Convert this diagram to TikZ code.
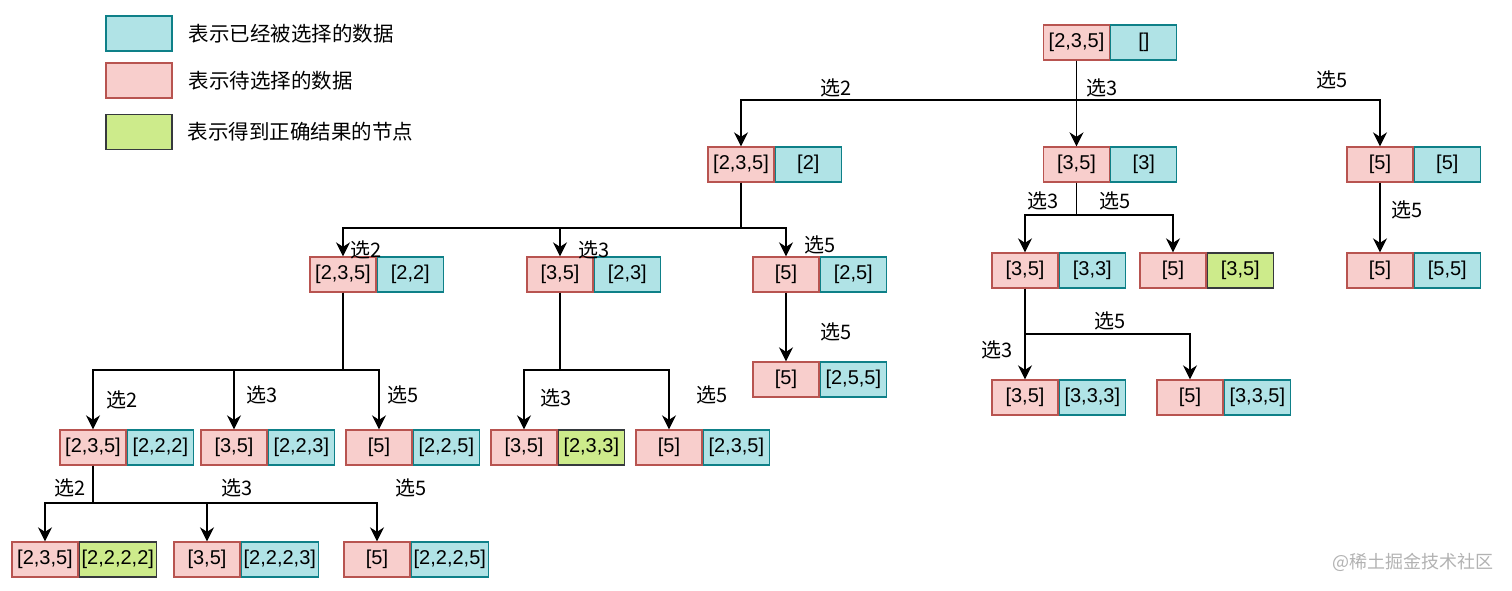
\documentclass[tikz,border=0pt]{standalone}
\usepackage{fontspec}
\setmainfont{Liberation Sans}
\newfontfamily\cjk{Noto Sans CJK SC}
\usetikzlibrary{positioning,arrows.meta}
\definecolor{redfill}{HTML}{F8CECC}
\definecolor{reddraw}{HTML}{B85450}
\definecolor{cyanfill}{HTML}{B0E3E6}
\definecolor{cyandraw}{HTML}{0E8088}
\definecolor{greenfill}{HTML}{CDEB8B}
\definecolor{greendraw}{HTML}{36393D}
\tikzset{
  todo/.style={draw=reddraw, fill=redfill, line width=1.3pt, minimum width=66pt,
    minimum height=35pt, inner sep=0pt, font=\fontsize{20}{24}\selectfont},
  done/.style={todo, draw=cyandraw, fill=cyanfill},
  hit/.style={todo, draw=greendraw, fill=greendraw!0!greenfill},
  arr/.style={-{Stealth[length=14pt,width=14pt,inset=4.5pt]}, line width=1.9pt},
  pick/.style={font=\cjk\fontsize{20}{24}\selectfont, inner sep=0pt},
  keytext/.style={font=\cjk\fontsize{20.5}{24}\selectfont, inner sep=0pt, anchor=west}
}
% one state: name, x, y, still to choose, chosen, style of chosen part
\newcommand{\state}[6]{%
  \node[todo] (#1) at (#2,#3) {#4};
  \node[#6, right=0pt of #1] (#1v) {#5};
}
% elbow connector from parent to child through the level y
\newcommand{\branch}[3]{%
  \draw[arr] (#1.south) -- (#1.south |- 0,#2) -| (#3.north);
}
\begin{document}
\begin{tikzpicture}[x=1pt,y=-1pt]
\useasboundingbox (0,0) rectangle (1512,590);
% legend
\node[done] (keydone) at (139,33.5) {};
\node[keytext, right=16pt of keydone] (keydonet) {表示已经被选择的数据};
\node[todo] (keytodo) at (139,80.5) {};
\node[keytext, right=16pt of keytodo] (keytodot) {表示待选择的数据};
\node[hit] (keyhit) at (139,132) {};
\node[keytext, right=15pt of keyhit] (keyhitt) {表示得到正确结果的节点};

% states
\state{root}{1076.5}{42.5}{[2,3,5]}{[]}{done}
\state{a}{741}{164.5}{[2,3,5]}{[2]}{done}
\state{b}{1076.5}{164.5}{[3,5]}{[3]}{done}
\state{c}{1380}{164.5}{[5]}{[5]}{done}
\state{aa}{343}{274.5}{[2,3,5]}{[2,2]}{done}
\state{ab}{560}{274.5}{[3,5]}{[2,3]}{done}
\state{ac}{786}{274.5}{[5]}{[2,5]}{done}
\state{acc}{786}{379.5}{[5]}{[2,5,5]}{done}
\state{aaa}{93}{447.5}{[2,3,5]}{[2,2,2]}{done}
\state{aab}{234}{447.5}{[3,5]}{[2,2,3]}{done}
\state{aac}{379}{447.5}{[5]}{[2,2,5]}{done}
\state{abb}{524}{447.5}{[3,5]}{[2,3,3]}{hit}
\state{abc}{669}{447.5}{[5]}{[2,3,5]}{done}
\state{aaaa}{45}{559.5}{[2,3,5]}{[2,2,2,2]}{hit, minimum width=77pt}
\state{aaab}{207}{559.5}{[3,5]}{[2,2,2,3]}{done, minimum width=77pt}
\state{aaac}{377}{559.5}{[5]}{[2,2,2,5]}{done, minimum width=77pt}
\state{bb}{1025}{270.5}{[3,5]}{[3,3]}{done}
\state{bc}{1173}{270.5}{[5]}{[3,5]}{hit}
\state{bbb}{1025}{397.5}{[3,5]}{[3,3,3]}{done}
\state{bbc}{1190}{397.5}{[5]}{[3,3,5]}{done}
\state{cc}{1380}{270.5}{[5]}{[5,5]}{done}

% connectors
\branch{root}{100}{a}
\branch{root}{100}{b}
\branch{root}{100}{c}
\branch{a}{228}{aa}
\branch{a}{228}{ab}
\branch{a}{228}{ac}
\draw[arr] (ac.south) -- (acc.north);
\branch{aa}{370}{aaa}
\branch{aa}{370}{aab}
\branch{aa}{370}{aac}
\branch{ab}{370}{abb}
\branch{ab}{370}{abc}
\branch{aaa}{503}{aaaa}
\branch{aaa}{503}{aaab}
\branch{aaa}{503}{aaac}
\branch{b}{215}{bb}
\branch{b}{215}{bc}
\branch{bb}{334}{bbb}
\branch{bb}{334}{bbc}
\draw[arr] (c.south) -- (cc.north);

% choices
\node[pick] (pra) at (836,88) {选2};
\node[pick] (prb) at (1102,88) {选3};
\node[pick] (prc) at (1332,80) {选5};
\node[pick] (paa) at (366,250) {选2};
\node[pick] (pab) at (594,250) {选3};
\node[pick] (pac) at (820,245) {选5};
\node[pick] (pacc) at (836,332) {选5};
\node[pick] (paaa) at (122,400) {选2};
\node[pick] (paab) at (262,395) {选3};
\node[pick] (paac) at (403,395) {选5};
\node[pick] (pabb) at (556,398) {选3};
\node[pick] (pabc) at (712,395) {选5};
\node[pick] (paaaa) at (70,488) {选2};
\node[pick] (paaab) at (237,488) {选3};
\node[pick] (paaac) at (411,488) {选5};
\node[pick] (pbb) at (1043,201) {选3};
\node[pick] (pbc) at (1115,201) {选5};
\node[pick] (pbbb) at (997,350) {选3};
\node[pick] (pbbc) at (1110,321) {选5};
\node[pick] (pcc) at (1407,210) {选5};

% watermark
\node[font=\cjk\fontsize{18}{22}\selectfont, text=black!30, inner sep=0pt] (mark) at (1413,562) {@稀土掘金技术社区};
\end{tikzpicture}
\end{document}
